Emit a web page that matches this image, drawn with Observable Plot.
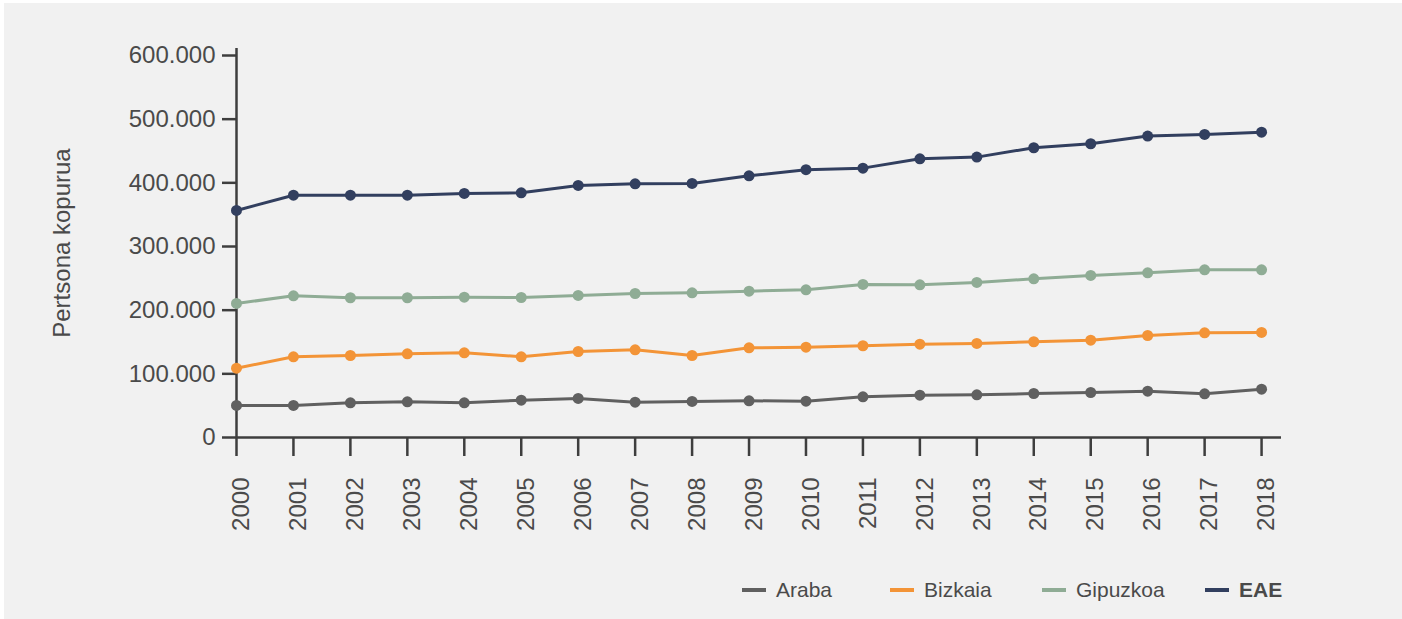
<!DOCTYPE html>
<html>
<head>
<meta charset="utf-8">
<script src="https://cdn.jsdelivr.net/npm/d3@7"></script>
<script src="https://cdn.jsdelivr.net/npm/@observablehq/plot@0.6"></script>
<style>
  html, body { margin: 0; padding: 0; background: #ffffff; width: 1402px; height: 619px; overflow: hidden; }
  #bg { position: absolute; left: 4px; top: 3px; width: 1398px; height: 616px; background: #f1f1f1; }
  #chart { position: absolute; left: 0; top: 0; width: 1402px; }
  #legend { display: flex; align-items: center; height: 40px; padding-left: 742px; font-family: "Liberation Sans", Arial, sans-serif; font-size: 21px; color: #4a4a4a; }
  .item { display: flex; align-items: center; }
  .sw { width: 24px; height: 4px; margin-right: 10px; }
</style>
</head>
<body>
<div id="bg"></div>
<div id="chart"></div>
<script>
const years = [2000, 2001, 2002, 2003, 2004, 2005, 2006, 2007, 2008, 2009, 2010, 2011, 2012, 2013, 2014, 2015, 2016, 2017, 2018];
const seriesNames = ["Araba", "Bizkaia", "Gipuzkoa", "EAE"];
const seriesColors = ["#606060", "#f39437", "#8fac95", "#323f5f"];
const araba = [50300, 50300, 54500, 56100, 54500, 58600, 61300, 55500, 56600, 57700, 57000, 63900, 66500, 67000, 69100, 70700, 72800, 68600, 75900];
const bizkaia = [108900, 126800, 128800, 131500, 133000, 126800, 135100, 137800, 128800, 140900, 141900, 144100, 146600, 147700, 150400, 152900, 160200, 164500, 165000];
const gipuzkoa = [210500, 222600, 219500, 219500, 220400, 219900, 223100, 226200, 227300, 229900, 232000, 240400, 239900, 243500, 249300, 254500, 258700, 263400, 263400];
const eae = [356600, 380600, 380600, 380600, 383300, 384400, 395900, 398500, 399000, 411100, 420600, 423100, 437800, 440400, 455100, 461400, 473400, 476000, 479600];
const yTicks = [0, 100000, 200000, 300000, 400000, 500000, 600000];
const yTitle = "Pertsona kopurua";

const seriesValues = [araba, bizkaia, gipuzkoa, eae];
const data = [];
seriesNames.forEach((name, i) => {
  years.forEach((yr, j) => data.push({series: name, year: yr, value: seriesValues[i][j]}));
});

const fmt = d3.formatLocale({decimal: ",", thousands: ".", grouping: [3], currency: ["", ""]}).format(",");
const axisColor = "#3e3e3e";
const textColor = "#4a4a4a";

const plot = Plot.plot({
  width: 1402,
  height: 570,
  marginLeft: 236,
  marginRight: 121,
  marginTop: 48,
  marginBottom: 133,
  style: {fontFamily: "'Liberation Sans', Arial, sans-serif", fontSize: "24px", color: textColor, background: "transparent", overflow: "visible"},
  x: {type: "linear", domain: [2000, 2018.35]},
  y: {domain: [0, 611000]},
  color: {domain: seriesNames, range: seriesColors},
  marks: [
    Plot.axisY({ticks: yTicks, tickSize: 14, tickPadding: 7, tickFormat: fmt, stroke: axisColor, strokeWidth: 2.5, fill: textColor, label: null}),
    Plot.axisX({ticks: years, tickSize: 19, tickFormat: () => "", stroke: axisColor, strokeWidth: 2.5, label: null}),
    Plot.axisX({ticks: years, tickSize: 0, tickPadding: 40, tickRotate: -90, tickFormat: d => String(d), fill: textColor, label: null, dx: 5}),
    Plot.ruleY([0], {stroke: axisColor, strokeWidth: 2.5}),
    Plot.ruleX([2000], {stroke: axisColor, strokeWidth: 2.5}),
    Plot.text([yTitle], {frameAnchor: "left", dx: -174, rotate: -90, textAnchor: "middle", lineAnchor: "middle", text: d => d, fill: textColor, fontSize: 24}),
    Plot.line(data, {x: "year", y: "value", z: "series", stroke: "series", strokeWidth: 3}),
    Plot.dot(data, {x: "year", y: "value", fill: "series", r: 5.5, stroke: "none"})
  ]
});
const chart = document.getElementById("chart");
chart.appendChild(plot);

const legend = document.createElement("div");
legend.id = "legend";
const itemWidths = [148, 152, 163, null];
seriesNames.forEach((name, i) => {
  const it = document.createElement("div");
  it.className = "item";
  if (itemWidths[i]) it.style.width = itemWidths[i] + "px";
  const sw = document.createElement("span");
  sw.className = "sw";
  sw.style.background = seriesColors[i];
  const tx = document.createElement("span");
  tx.textContent = name;
  if (name === "EAE") tx.style.fontWeight = "bold";
  it.appendChild(sw);
  it.appendChild(tx);
  legend.appendChild(it);
});
chart.appendChild(legend);
</script>
</body>
</html>
